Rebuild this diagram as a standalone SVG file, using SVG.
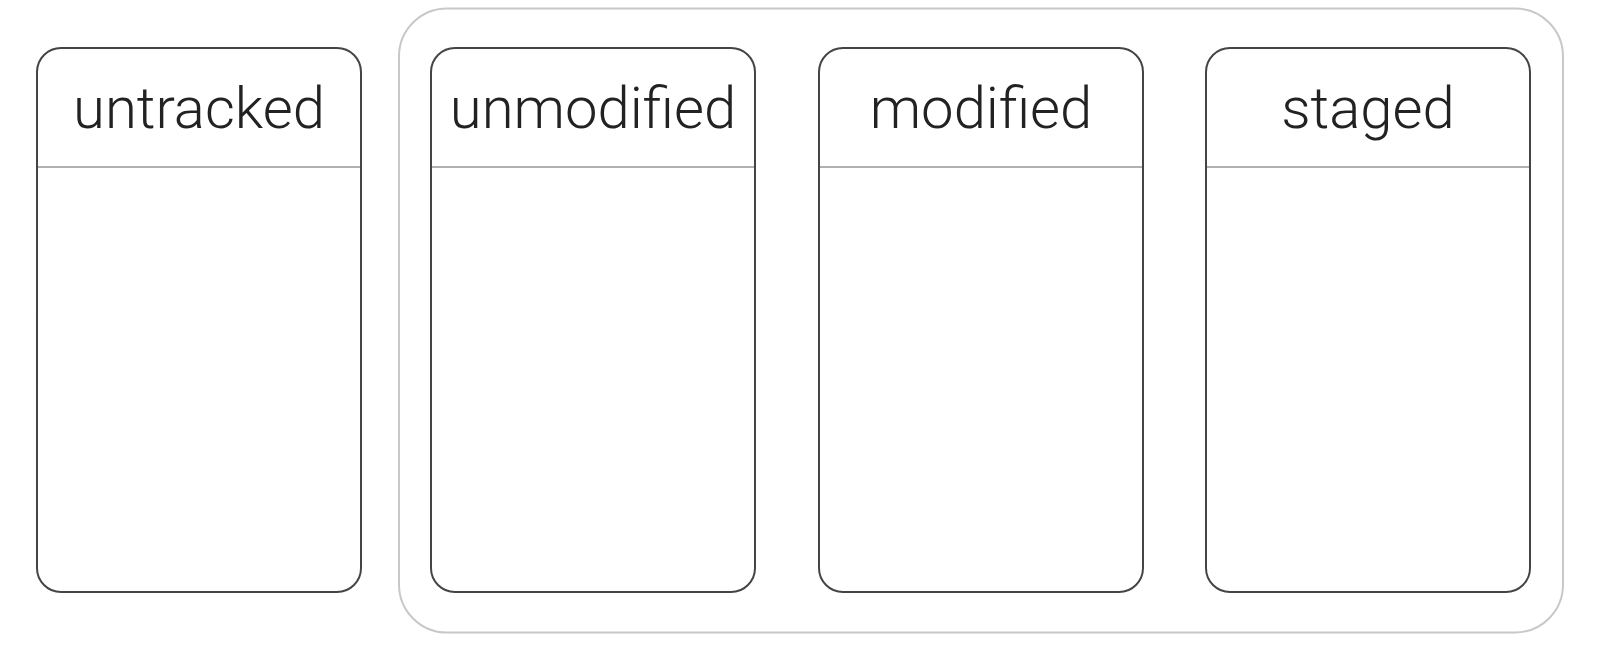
<svg xmlns="http://www.w3.org/2000/svg" width="1600" height="646" viewBox="0 0 1600 646">
<style>
.bg{fill:#ffffff}
.group{fill:none;stroke:#c8c8c8;stroke-width:2}
.box{fill:#ffffff;stroke:#444444;stroke-width:2}
.sep{stroke:#b0b0b0;stroke-width:2}
.label{font-family:Roboto,"Liberation Sans",Arial,sans-serif;font-weight:300;font-size:58px;fill:#222222;text-anchor:middle}
</style>
<rect class="bg" x="0" y="0" width="1600" height="646"/>
<g id="tracked-group">
<rect class="group" x="399" y="8.5" width="1164" height="624" rx="48" ry="48"/>
</g>
<g id="untracked">
<rect class="box" x="37" y="48" width="324" height="544" rx="24" ry="24"/>
<line class="sep" x1="38" y1="167" x2="360" y2="167"/>
<text class="label" x="199" y="128">untracked</text>
</g>
<g id="unmodified">
<rect class="box" x="431" y="48" width="324" height="544" rx="24" ry="24"/>
<line class="sep" x1="432" y1="167" x2="754" y2="167"/>
<text class="label" x="593" y="128">unmodified</text>
</g>
<g id="modified">
<rect class="box" x="819" y="48" width="324" height="544" rx="24" ry="24"/>
<line class="sep" x1="820" y1="167" x2="1142" y2="167"/>
<text class="label" x="981" y="128">modified</text>
</g>
<g id="staged">
<rect class="box" x="1206" y="48" width="324" height="544" rx="24" ry="24"/>
<line class="sep" x1="1207" y1="167" x2="1529" y2="167"/>
<text class="label" x="1368" y="128">staged</text>
</g>
<g id="connectors"></g>
</svg>
